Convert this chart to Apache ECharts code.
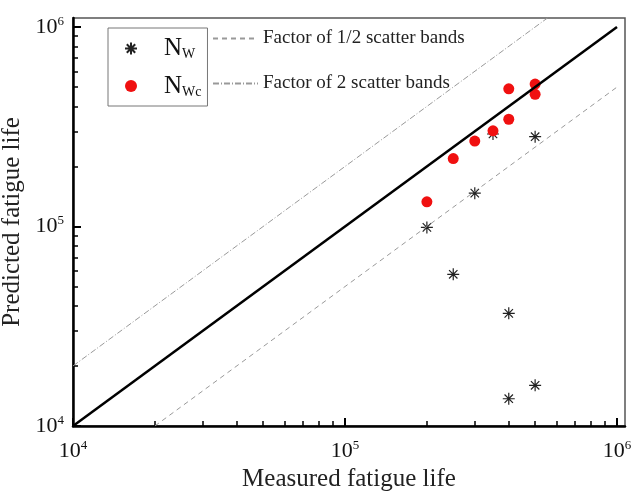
<!DOCTYPE html>
<html>
<head>
<meta charset="utf-8">
<script src="https://cdn.jsdelivr.net/npm/echarts@6/dist/echarts.min.js"></script>
<style>
  html, body { margin: 0; padding: 0; background: #fff; }
  #chart { width: 632px; height: 491px; }
</style>
</head>
<body>
<div id="chart"></div>
<script>
// axis extents (a little past 10^6 like the original frame)
var xMin = 1e4, xMax = 1.07e6;
var yMin = 1e4, yMax = 1.11e6;

var majorTicks = [1e4, 1e5, 1e6];
var minorTicks = [2e4, 3e4, 4e4, 5e4, 6e4, 7e4, 8e4, 9e4,
                  2e5, 3e5, 4e5, 5e5, 6e5, 7e5, 8e5, 9e5];

// measured / predicted lives
var measuredW   = [2e5, 2.5e5, 3e5, 3.5e5, 4e5, 4e5, 5e5, 5e5];
var predictedW  = [9.9e4, 5.76e4, 1.47e5, 2.91e5, 3.67e4, 1.37e4, 2.82e5, 1.6e4];
var measuredWc  = [2e5, 2.5e5, 3e5, 3.5e5, 4e5, 4e5, 5e5, 5e5];
var predictedWc = [1.33e5, 2.19e5, 2.68e5, 3.02e5, 4.9e5, 3.45e5, 5.18e5, 4.6e5];

// reference lines
var lineEqual = [[1e4, 1e4], [1e6, 1e6]];
var lineHalf  = [[2e4, 1e4], [1e6, 5e5]];      // factor of 1/2
var lineTwice = [[1e4, 2e4], [5.55e5, 1.11e6]]; // factor of 2

function pairs(xs, ys) {
    return xs.map(function (x, i) { return [x, ys[i]]; });
}

var font = 'Liberation Serif';
var asterisk = 'path://M5,0L5,10M0,5L10,5M1.5,1.5L8.5,8.5M8.5,1.5L1.5,8.5';

function powLabel(v) {
    return '{b|10}{e|' + Math.round(Math.log10(v)) + '}';
}
var powRich = {
    b: { fontFamily: font, fontSize: 22, color: '#111', lineHeight: 24 },
    e: { fontFamily: font, fontSize: 13, color: '#111', lineHeight: 13, verticalAlign: 'top' }
};

function majorAxis(min, max, name, gap, margin, pos) {
    return {
        type: 'log', logBase: 10, min: min, max: max, position: pos,
        name: name, nameLocation: 'middle', nameGap: gap,
        nameTextStyle: { fontFamily: font, fontSize: 25, color: '#222' },
        axisLine: { lineStyle: { color: '#000', width: 2.5 } },
        axisTick: { inside: true, length: 8, customValues: majorTicks,
                    lineStyle: { color: '#000', width: 2 } },
        axisLabel: { customValues: majorTicks, margin: margin, formatter: powLabel, rich: powRich },
        splitLine: { show: false }
    };
}

function minorAxis(min, max, pos) {
    return {
        type: 'log', logBase: 10, min: min, max: max, position: pos,
        axisLine: { show: false },
        axisTick: { inside: true, length: 5, customValues: minorTicks,
                    lineStyle: { color: '#000', width: 1.5 } },
        axisLabel: { show: false },
        splitLine: { show: false }
    };
}

var chart = echarts.init(document.getElementById('chart'));

chart.setOption({
    animation: false,
    grid: { left: 73, right: 7, top: 18, bottom: 65, show: true,
            outerBoundsMode: 'none',
            borderColor: '#555', borderWidth: 1.5 },
    xAxis: [majorAxis(xMin, xMax, 'Measured fatigue life', 40, 13, 'bottom'), minorAxis(xMin, xMax, 'bottom')],
    yAxis: [majorAxis(yMin, yMax, 'Predicted fatigue life', 40, 9, 'left'), minorAxis(yMin, yMax, 'left')],
    legend: [
        {
            data: ['NW', 'NWc'],
            orient: 'vertical', left: 108, top: 28,
            padding: [8, 6, 7, 16],
            itemWidth: 30, itemHeight: 12, itemGap: 12,
            borderColor: '#777', borderWidth: 1,
            formatter: function (name) {
                return name === 'NW' ? '{n|N}{s|W}' : '{n|N}{s|Wc}';
            },
            textStyle: {
                rich: {
                    n: { fontFamily: font, fontSize: 25, color: '#111', lineHeight: 26, padding: [0, 0, 0, 13] },
                    s: { fontFamily: font, fontSize: 14, color: '#111', lineHeight: 12, verticalAlign: 'bottom' }
                }
            }
        },
        {
            data: ['Factor of 1/2 scatter bands', 'Factor of 2 scatter bands'],
            orient: 'vertical', left: 212, top: 29,
            padding: 0, itemWidth: 45, itemHeight: 14, itemGap: 26,
            itemStyle: { opacity: 0 },
            textStyle: { fontFamily: font, fontSize: 19, color: '#222' }
        }
    ],
    series: [
        {
            name: 'Equal', type: 'line', data: lineEqual, symbol: 'none',
            lineStyle: { color: '#000', width: 2.5 }
        },
        {
            name: 'Factor of 1/2 scatter bands', type: 'line', data: lineHalf, symbol: 'none',
            lineStyle: { color: '#999', width: 1, type: [5, 4] }
        },
        {
            name: 'Factor of 2 scatter bands', type: 'line', data: lineTwice, symbol: 'none',
            lineStyle: { color: '#999', width: 1, type: [6, 2, 1, 2] }
        },
        {
            name: 'NW', type: 'scatter', data: pairs(measuredW, predictedW),
            symbol: asterisk, symbolSize: 12,
            itemStyle: { color: 'rgba(0,0,0,0)', borderColor: '#222', borderWidth: 1.2, opacity: 1 }
        },
        {
            name: 'NWc', type: 'scatter', data: pairs(measuredWc, predictedWc),
            symbol: 'circle', symbolSize: 11,
            itemStyle: { color: '#f01010', opacity: 1 }
        }
    ]
});
</script>
</body>
</html>
